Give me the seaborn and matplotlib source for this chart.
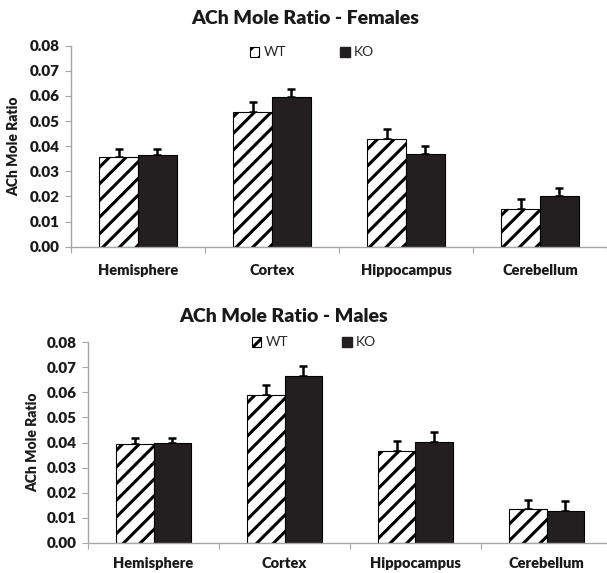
import matplotlib
matplotlib.use("Agg")
import matplotlib.pyplot as plt
import matplotlib.patches as mpatches
import seaborn as sns
import pandas as pd

regions = ["Hemisphere", "Cortex", "Hippocampus", "Cerebellum"]
genotypes = ["WT", "KO"]

female_wt = [0.0358, 0.0537, 0.0427, 0.0149]
female_ko = [0.0365, 0.0596, 0.0368, 0.0203]
female_wt_err = [0.0031, 0.0040, 0.0041, 0.0040]
female_ko_err = [0.0024, 0.0032, 0.0033, 0.0032]

male_wt = [0.0393, 0.0588, 0.0367, 0.0133]
male_ko = [0.0398, 0.0667, 0.0403, 0.0128]
male_wt_err = [0.0026, 0.0040, 0.0039, 0.0037]
male_ko_err = [0.0021, 0.0040, 0.0040, 0.0040]

y_ticks = [0.00, 0.01, 0.02, 0.03, 0.04, 0.05, 0.06, 0.07, 0.08]

sns.set_theme(style="white")
plt.rcParams["font.family"] = ["Lato", "DejaVu Sans"]
plt.rcParams["hatch.linewidth"] = 2.2

KO_COLOR = "#231f20"
AXIS_GRAY = "#a6a6a6"
TEXT = "#1a1a1a"

fig = plt.figure(figsize=(6.07, 5.73), dpi=100)
W, H = 607, 573


def make_axes(left_px, right_px, top_px, bottom_px):
    return fig.add_axes([left_px / W, 1 - bottom_px / H,
                         (right_px - left_px) / W, (bottom_px - top_px) / H])


def panel(ax, wt, ko, wt_err, ko_err, title, title_xy, legend_xy, ylabel_x,
          xpad):
    df = pd.DataFrame({
        "Region": regions * 2,
        "Genotype": ["WT"] * 4 + ["KO"] * 4,
        "Ratio": list(wt) + list(ko),
    })
    sns.barplot(data=df, x="Region", y="Ratio", hue="Genotype", order=regions,
                hue_order=genotypes, palette={"WT": "white", "KO": KO_COLOR},
                width=0.575, gap=0, errorbar=None, saturation=1,
                edgecolor="black", linewidth=0.8, ax=ax, legend=False)
    bars = [p for p in ax.patches if isinstance(p, mpatches.Rectangle)][:8]
    errs = list(wt_err) + list(ko_err)
    for i, b in enumerate(bars):
        if i < 4:
            b.set_facecolor("white")
            b.set_hatch("//")
        cx = b.get_x() + b.get_width() / 2
        h = b.get_height()
        ax.errorbar([cx], [h], yerr=[[0], [errs[i]]], fmt="none",
                    ecolor="black", elinewidth=1.8, capsize=3, capthick=1.8,
                    zorder=1)
    for b in bars:
        b.set_zorder(2)

    ax.set_xlim(-0.5, 3.5)
    ax.set_ylim(0, 0.08)
    ax.set_yticks(y_ticks)
    ax.set_yticklabels([f"{t:.2f}" for t in y_ticks], fontweight="heavy",
                       fontsize=11, color=TEXT)
    ax.set_xticks(range(4))
    ax.set_xticklabels(regions, fontweight="heavy", fontsize=10.5, color=TEXT)
    ax.set_xticks([-0.5, 0.5, 1.5, 2.5, 3.5], minor=True)
    ax.tick_params(axis="x", which="major", length=0, pad=xpad)
    ax.tick_params(axis="x", which="minor", length=4, width=0.8,
                   color=AXIS_GRAY, direction="out", bottom=True)
    ax.tick_params(axis="y", which="major", length=4, width=0.8,
                   color=AXIS_GRAY, direction="out", left=True, pad=4)
    for s in ["top", "right"]:
        ax.spines[s].set_visible(False)
    for s in ["left", "bottom"]:
        ax.spines[s].set_color(AXIS_GRAY)
        ax.spines[s].set_linewidth(1.0)
    ax.set_xlabel("")
    ax.set_ylabel("")
    pos = ax.get_position()
    fig.text(ylabel_x / W, (pos.y0 + pos.y1) / 2, "ACh Mole Ratio",
             rotation=90, ha="center", va="center", fontweight="heavy",
             fontsize=10, color=TEXT)
    fig.text(title_xy[0] / W, 1 - title_xy[1] / H, title, ha="center",
             va="center", fontweight="heavy", fontsize=14, color=TEXT)

    handles = [mpatches.Patch(facecolor="white", edgecolor="black",
                              hatch="//", linewidth=0.8),
               mpatches.Patch(facecolor=KO_COLOR, edgecolor=KO_COLOR)]
    fig.legend(handles, genotypes, loc="center",
               bbox_to_anchor=(legend_xy[0] / W, 1 - legend_xy[1] / H),
               ncol=2, frameon=False, fontsize=10, handlelength=0.7,
               handleheight=0.7, handletextpad=0.3, columnspacing=3.9,
               borderaxespad=0, borderpad=0)


ax1 = make_axes(71, 607, 45.7, 246.7)
panel(ax1, female_wt, female_ko, female_wt_err, female_ko_err,
      "ACh Mole Ratio - Females", (305, 18), (312, 52.5), 14, 12.5)

ax2 = make_axes(88, 607 + 5, 342.3, 542.7)
panel(ax2, male_wt, male_ko, male_wt_err, male_ko_err,
      "ACh Mole Ratio - Males", (284, 317), (314, 342.5), 33, 10)

fig.savefig("out.png", dpi=100)
